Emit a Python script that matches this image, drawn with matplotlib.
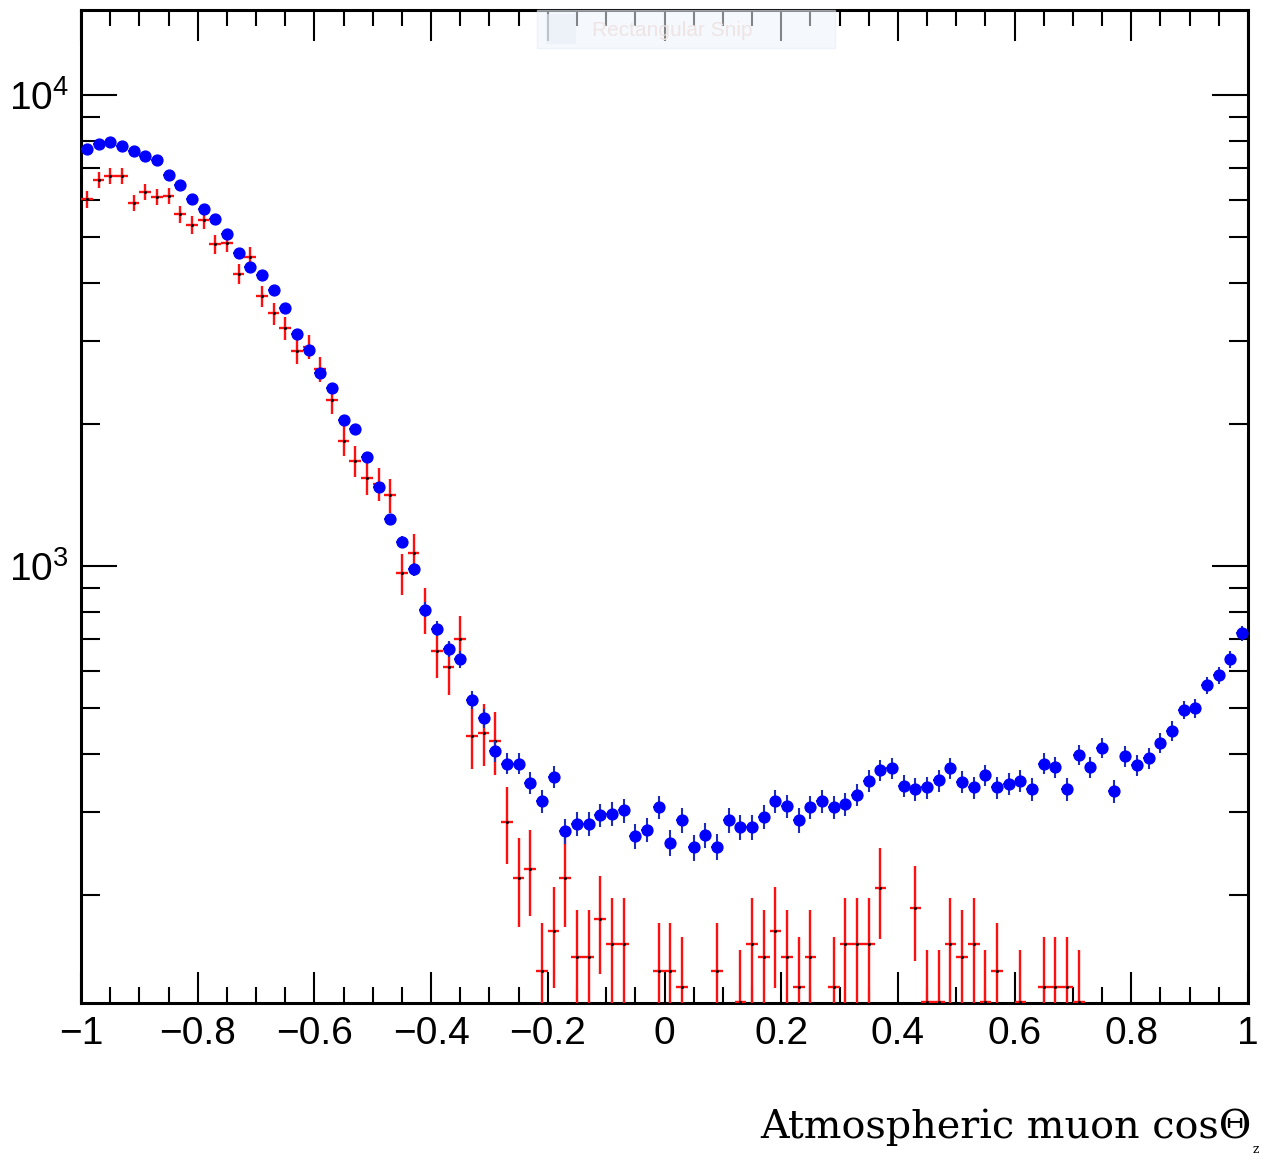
import numpy as np
import matplotlib
matplotlib.use("Agg")
import matplotlib.pyplot as plt
from matplotlib.ticker import FixedLocator, FuncFormatter, LogLocator, NullFormatter
from matplotlib.patches import Rectangle

# 100 bins in cos(theta), -1 .. 1
bin_edges = np.linspace(-1, 1, 101)

# blue: simulated atmospheric muons
blue_counts = [
    7680, 7870, 7960, 7800, 7600, 7430, 7300, 6780, 6430, 6010,
    5740, 5450, 5080, 4630, 4320, 4150, 3855, 3535, 3109, 2875,
    2565, 2395, 2042, 1954, 1706, 1474, 1258, 1126, 985, 809,
    737, 668, 634, 521, 475, 405, 381, 381, 347, 317,
    357, 274, 284, 284, 296, 298, 303, 267, 276, 308,
    259, 289, 253, 269, 254, 289, 279, 279, 294, 317,
    309, 289, 308, 317, 308, 312, 327, 350, 369, 372,
    342, 336, 339, 351, 372, 348, 339, 360, 339, 345,
    350, 336, 381, 375, 336, 398, 375, 412, 333, 395,
    378, 391, 421, 447, 495, 499, 559, 587, 634, 720,
]
blue_weight = 1.0

# red: data (weighted), 0 = empty bin
red_counts = [
    6010, 6600, 6750, 6750, 5906, 6237, 6085, 6115, 5580, 5305,
    5440, 4830, 4865, 4180, 4540, 3750, 3440, 3197, 2861, 2921,
    2616, 2251, 1845, 1673, 1540, 1498, 1415, 965, 1069, 809,
    661, 611, 700, 436, 443, 425, 286, 218, 228, 138,
    168, 218, 148, 148, 178, 158, 158, 0, 0, 138,
    138, 128, 0, 0, 138, 0, 119, 158, 148, 168,
    148, 128, 148, 0, 128, 158, 158, 158, 207, 0,
    0, 188, 119, 119, 158, 148, 158, 119, 138, 0,
    119, 0, 128, 128, 128, 119, 0, 0, 0, 0,
    0, 0, 0, 0, 0, 0, 0, 0, 0, 0,
]
red_weight = 9.9

x_major = [-1, -0.8, -0.6, -0.4, -0.2, 0, 0.2, 0.4, 0.6, 0.8, 1]

plt.rcParams["font.family"] = ["Liberation Sans", "DejaVu Sans"]
plt.rcParams["mathtext.fontset"] = "custom"
plt.rcParams["mathtext.rm"] = "Liberation Sans"

fig = plt.figure(figsize=(12.63, 11.59), dpi=100)
ax = fig.add_axes([81 / 1263, 1 - 1002.5 / 1159, 1167 / 1263, 993 / 1159])

centers = 0.5 * (bin_edges[:-1] + bin_edges[1:])
half = 0.5 * np.diff(bin_edges)

blue = np.array(blue_counts, dtype=float)
blue_err = np.sqrt(blue * blue_weight)
red = np.array(red_counts, dtype=float)
ok = red > 0
red_err = np.sqrt(red[ok] * red_weight)

ax.errorbar(centers[ok], red[ok], xerr=half[ok], yerr=red_err, fmt="none",
            ecolor="#ff1010", elinewidth=1.7, capsize=0, zorder=3)
ax.plot(centers[ok], red[ok], "s", color="black", ms=1.0, zorder=3.5)
ax.errorbar(centers, blue, xerr=half, yerr=blue_err, fmt="o",
            color="#0000ff", mec="#0000ff", ms=7.8, ecolor="#1c2cb8",
            elinewidth=1.5, capsize=0, zorder=4)

ax.set_yscale("log")
ax.set_xlim(-1, 1)
ax.set_ylim(118.5, 15200)

ax.xaxis.set_major_locator(FixedLocator(x_major))
ax.xaxis.set_minor_locator(FixedLocator(np.arange(-1, 1.001, 0.05)))
ax.xaxis.set_major_formatter(FuncFormatter(lambda v, p: ("%g" % v).replace("-", "\u2212")))
ax.yaxis.set_major_locator(LogLocator(base=10))
ax.yaxis.set_minor_locator(LogLocator(base=10, subs=np.arange(2, 10)))
ax.yaxis.set_minor_formatter(NullFormatter())

ax.tick_params(axis="both", which="both", direction="in", top=True, right=True,
               colors="black", width=1.5, labelsize=28)
ax.tick_params(axis="x", which="major", length=22, pad=10)
ax.tick_params(axis="x", which="minor", length=11.5)
ax.tick_params(axis="y", which="major", length=26, pad=9)
ax.tick_params(axis="y", which="minor", length=13.5)
for s in ax.spines.values():
    s.set_linewidth(2.2)

# faint screenshot-tool overlay at the top
fig.patches.append(Rectangle((537 / 1263, 1 - 48 / 1159), 298 / 1263, 38 / 1159,
                             transform=fig.transFigure, facecolor="#eef3fa",
                             edgecolor="#e4ecf6", alpha=0.55, zorder=10))
fig.patches.append(Rectangle((546 / 1263, 1 - 44 / 1159), 30 / 1263, 30 / 1159,
                             transform=fig.transFigure, facecolor="#e8eef8",
                             edgecolor="none", alpha=0.6, zorder=10))
fig.text(592 / 1263, 1 - 30 / 1159, "Rectangular Snip", fontsize=15,
         color="#eee4e4", va="center", ha="left", zorder=11)

fig.text(1252 / 1263, 1 - 1138 / 1159, "Atmospheric muon cos\u0398",
         family=["DejaVu Serif"], fontsize=28.6,
         ha="right", va="baseline")
fig.text(1253 / 1263, 1 - 1153 / 1159, "z", family=["DejaVu Serif"],
         fontsize=9, ha="left", va="baseline")

fig.savefig("out.png", dpi=100)
